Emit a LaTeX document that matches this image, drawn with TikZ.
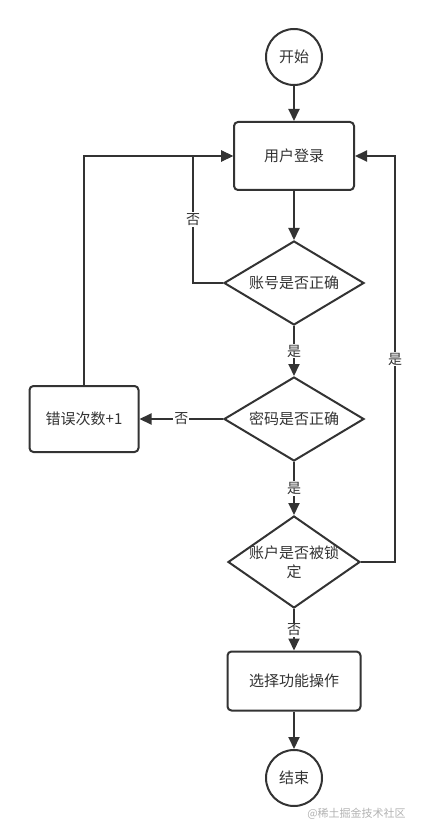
\documentclass[tikz,border=0pt]{standalone}
\usepackage{fontspec}
\setmainfont{Noto Sans CJK SC}
\usetikzlibrary{shapes.geometric,arrows.meta,positioning}
\definecolor{ink}{HTML}{333333}

\begin{document}
\begin{tikzpicture}[
    x=1pt, y=-1pt,
    color=ink, line width=2pt,
    font=\fontsize{15}{19}\selectfont,
    term/.style={circle, draw, minimum size=56pt, inner sep=0pt},
    proc/.style={rectangle, draw, rounded corners=4pt, minimum width=120pt, minimum height=68pt},
    cond/.style={diamond, draw, aspect=1.67, inner sep=0pt, minimum width=140pt, minimum height=84pt, align=center},
    arr/.style={-{Triangle[length=12pt,width=11pt]}},
    lbl/.style={fill=white, inner sep=1pt, font=\fontsize{14}{16}\selectfont}
]
    \useasboundingbox (0,0) rectangle (424,834);

    % 节点
    \node[term] (start) at (294,57) {开始};
    \node[proc, below of=start, node distance=99pt] (login) {用户登录};
    \node[cond, below of=login, node distance=127pt] (d1) {账号是否正确};
    \node[cond, below of=d1, node distance=136pt] (d2) {密码是否正确};
    \node[cond, below of=d2, node distance=143pt, aspect=1.43, minimum width=132pt, minimum height=92pt, inner sep=-2pt] (d3) {账户是否被锁\\定};
    \node[proc, below of=d3, node distance=119pt, minimum width=133pt, minimum height=59pt] (sel) {选择功能操作};
    \node[term, below of=sel, node distance=97pt] (end) {结束};
    \node[proc, left of=d2, node distance=210pt, minimum width=109pt, minimum height=66pt] (err) {错误次数+1};

    % 回路拐点
    \coordinate[left=30pt of d1.west] (k1);
    \coordinate[right=34pt of d3.east] (k2);

    % 连线
    \draw[arr] (start) -- (login);
    \draw[arr] (login) -- (d1);
    \draw[arr] (d1) -- node[lbl] {是} (d2);
    \draw[arr] (d2) -- node[lbl] {是} (d3);
    \draw[arr] (d3) -- node[lbl] {否} (sel);
    \draw[arr] (sel) -- (end);
    \draw[arr] (d2) -- node[lbl] {否} (err);
    \draw[arr] (err.north) |- (login.west);
    \draw[arr] (d1.west) -- (k1) |- node[lbl, pos=0.25] {否} (login.west);
    \draw[arr] (d3.east) -- (k2) |- node[lbl, pos=0.25] {是} (login.east);

    % 水印
    \node[anchor=east, text=gray!60, font=\fontsize{11}{13}\selectfont] (mark) at (410,814) {@稀土掘金技术社区};
\end{tikzpicture}
\end{document}
